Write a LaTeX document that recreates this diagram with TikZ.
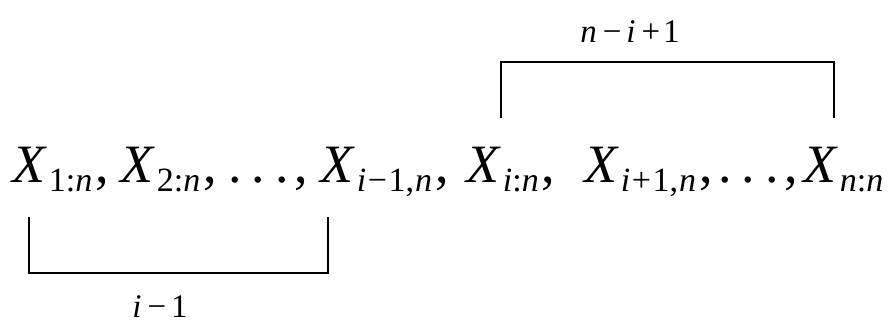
\documentclass[tikz,border=0pt]{standalone}
\usepackage{fontspec}
\setmainfont{Liberation Serif}
\usetikzlibrary{positioning, calc}

\newcommand{\bigsz}{\fontsize{54}{56}\selectfont}
\newcommand{\subsz}{\fontsize{34}{36}\selectfont}
\newcommand{\lblsz}{\fontsize{33}{35}\selectfont}
% X with a lowered index
\newcommand{\Xsub}[1]{\textit{X}\kern2pt\raisebox{-9pt}{\subsz #1}}
\newcommand{\seqdots}{.\kern10pt.\kern10pt.\kern6pt,}
\newcommand{\subminus}{\kern1.5pt−\kern1.5pt}
\newcommand{\subplus}{\kern1.5pt+\kern1.5pt}

\begin{document}
\begin{tikzpicture}[
  x=1pt, y=1pt,
  term/.style={inner sep=0pt, anchor=base west, font=\bigsz},
  lbl/.style={inner sep=0pt, anchor=base, font=\lblsz},
  bracket/.style={draw=black, line width=1.3pt},
]
\useasboundingbox (0,0) rectangle (890,324);

% order statistics
\node[term] (x1) at (12,141) {\Xsub{1:\textit{n}}\kern3pt,};
\node[term] (x2) at (120,141) {\Xsub{2:\textit{n}}\kern3pt,};
\node[term] (dl) at (228,141) {\seqdots};
\node[term] (xim1) at (320,141) {\Xsub{\textit{i}\subminus1,\kern1pt\textit{n}}\kern3pt,};
\node[term] (xi) at (466,141) {\Xsub{\textit{i}:\textit{n}}\kern3pt,};
\node[term] (xip1) at (584,141) {\Xsub{\textit{i}\subplus1,\kern1pt\textit{n}}\kern3pt,};
\node[term] (dr) at (718,141) {\seqdots};
\node[term] (xn) at (803,141) {\Xsub{\textit{n}:\textit{n}}};

% brackets
\draw[bracket] ([xshift=17,yshift=-34]x1.base west) -- ++(0,-56)
  -| ([xshift=8,yshift=-34]xim1.base west);
\draw[bracket] ([xshift=35,yshift=65]xi.base west) -- ++(0,56)
  -| ([xshift=31,yshift=65]xn.base west);

% counts
\node[lbl] (below) at (160,7) {\textit{i}\kern6pt−\kern5pt1};
\node[lbl] (above) at (630,281) {\textit{n}\kern6pt−\kern5pt\textit{i}\kern6pt+\kern3pt1};

\end{tikzpicture}
\end{document}
